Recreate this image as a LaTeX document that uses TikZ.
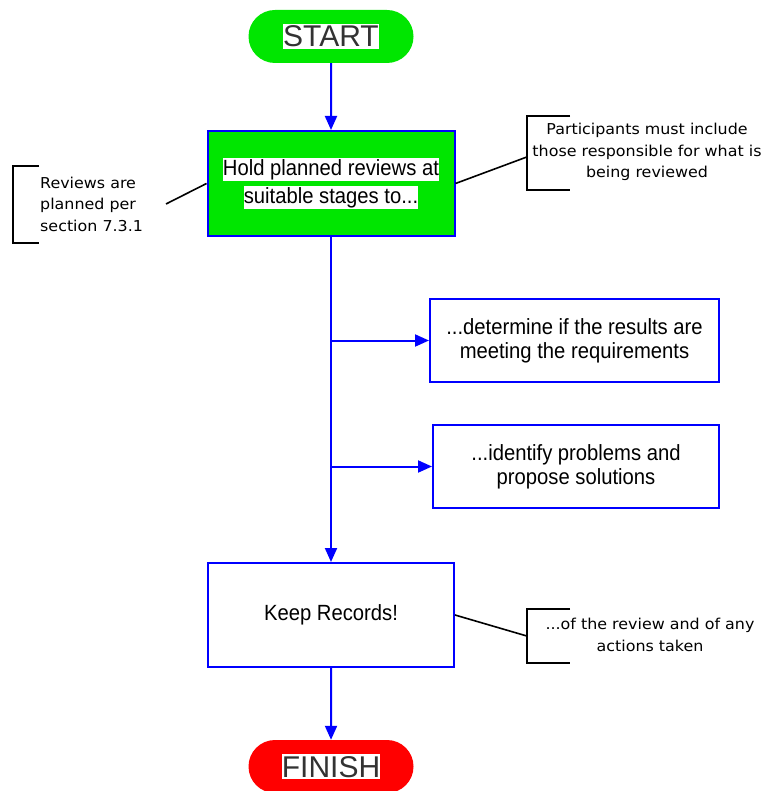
\documentclass[tikz,border=0pt]{standalone}
\usepackage{fontspec}
\usetikzlibrary{arrows.meta,shapes.misc}
\newfontfamily\flowfont[FakeStretch=0.92]{Liberation Sans}
\newfontfamily\termfont{Liberation Sans}
\newfontfamily\notefont[FakeStretch=1.06]{DejaVu Sans}
\definecolor{flowgreen}{RGB}{0,230,0}
\definecolor{flowred}{RGB}{255,0,0}
\definecolor{flowblue}{RGB}{0,0,255}
% white band behind a line of text
\newcommand{\whiteband}[3]{{\setlength{\fboxsep}{0pt}\colorbox{white}{\vrule height #1 depth #2 width 0pt #3}}}
\tikzset{
  terminal/.style={rounded rectangle, minimum width=165, minimum height=53, inner sep=0,
    font=\termfont\fontsize{30}{32}\selectfont, text=black!80},
  process/.style={draw=flowblue, line width=2, rectangle, inner sep=0, align=center,
    font=\flowfont\fontsize{22}{24}\selectfont},
  flow/.style={flowblue, line width=2, -{Triangle[length=14,width=12]}},
  link/.style={black, line width=1.6},
  bracketarea/.style={inner sep=0, minimum width=#1},
  notetext/.style={inner sep=0, font=\notefont\fontsize{15}{21.5}\selectfont},
}
\begin{document}
\begin{tikzpicture}[x=1pt,y=-1pt]
\useasboundingbox (0,0) rectangle (767,791);

% terminals
\node[terminal, fill=flowgreen] (start) at (331,36.5) {\whiteband{23pt}{2pt}{START}};
\node[terminal, fill=flowred] (finish) at (331,766.5) {\whiteband{23pt}{2pt}{FINISH}};

% process boxes
\node[process, fill=flowgreen, minimum width=247, minimum height=105] (hold) at (331,183.5)
  {\whiteband{17.5pt}{3.5pt}{Hold planned reviews at}\\[4pt]\whiteband{17.5pt}{3.5pt}{suitable stages to...}};
\node[process, minimum width=289, minimum height=83] (det) at (574.5,340.5)
  {...determine if the results are\\meeting the requirements};
\node[process, minimum width=286, minimum height=83] (ident) at (576,466.5)
  {...identify problems and\\propose solutions};
\node[process, minimum width=246, minimum height=104] (keep) at (331,615)
  {Keep Records!};

% flow connectors
\draw[flow] (start) -- (hold);
\draw[flow] (hold) -- (keep);
\draw[flow] (hold.south |- det.west) -- (det.west);
\draw[flow] (hold.south |- ident.west) -- (ident.west);
\draw[flow] (keep) -- (finish);

% annotation brackets
\node[bracketarea=26, minimum height=77] (b1) at (26,204.5) {};
\node[bracketarea=43, minimum height=74] (b2) at (548.5,153) {};
\node[bracketarea=43, minimum height=54] (b3) at (548.5,636) {};
\foreach \b in {b1,b2,b3}
  \draw[link] (\b.north east) -- (\b.north west) -- (\b.south west) -- (\b.south east);

% annotation texts
\node[notetext, anchor=west, align=left] (n1) at (40,204)
  {Reviews are\\planned per\\section 7.3.1};
\node[notetext, align=center] (n2) at (647,152)
  {Participants must include\\those responsible for what is\\being reviewed};
\node[notetext, align=center] (n3) at (650,635)
  {...of the review and of any\\actions taken};

% annotation leaders
\coordinate (l1) at (166,204);
\draw[link] (hold.west) -- (l1);
\draw[link] (hold.east) -- ([yshift=-4]b2.west);
\draw[link] (keep.east) -- (b3.west);
\end{tikzpicture}
\end{document}
